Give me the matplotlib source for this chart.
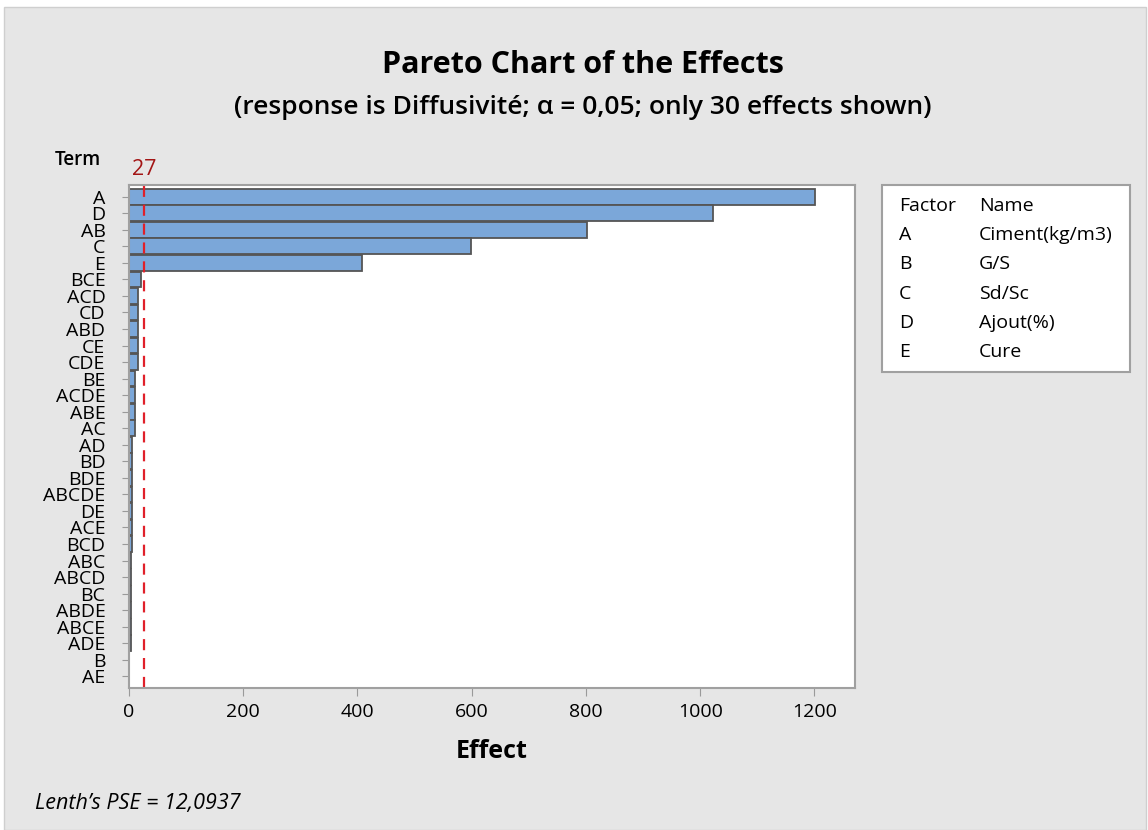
import matplotlib
matplotlib.use("Agg")
import matplotlib.pyplot as plt
from matplotlib.patches import Rectangle

plt.rcParams['font.family'] = ['Open Sans', 'DejaVu Sans']

# Effects, sorted as in the chart (largest first)
terms = ["A", "D", "AB", "C", "E", "BCE", "ACD", "CD", "ABD", "CE",
         "CDE", "BE", "ACDE", "ABE", "AC", "AD", "BD", "BDE", "ABCDE", "DE",
         "ACE", "BCD", "ABC", "ABCD", "BC", "ABDE", "ABCE", "ADE", "B", "AE"]
effects = [1201, 1022, 802, 599, 408, 21, 15, 15, 15, 15,
           15, 11, 11, 11, 11, 6, 6, 6, 6, 6,
           6, 6, 3, 3, 3, 3, 3, 3, 0.6, 0.4]
critical = 27
factors = ["A", "B", "C", "D", "E"]
factor_names = ["Ciment(kg/m3)", "G/S", "Sd/Sc", "Ajout(%)", "Cure"]

fig = plt.figure(figsize=(11.48, 8.30), dpi=100, facecolor="white")
fig.patches.append(Rectangle((4 / 1148, 0), 1142 / 1148, 1 - 7 / 830,
                             transform=fig.transFigure, facecolor="#e6e6e6",
                             edgecolor="#cfcfcf", linewidth=1, zorder=-10))

ax = fig.add_axes([129 / 1148, 1 - 688 / 830, 726 / 1148, 503 / 830])
ax.set_facecolor("white")

ypos = list(range(len(terms)))
ax.barh(ypos, effects, height=0.95, color="#7ba7d9", edgecolor="#555555", linewidth=1.3)
ax.axvline(critical, color="#e0202a", linestyle=(0, (5, 3.5)), linewidth=1.6)

ax.set_xlim(0, 1271)
ax.set_ylim(len(terms) - 0.29, -0.71)
ax.set_yticks(ypos)
ax.set_yticklabels(terms, fontsize=14)
ax.set_xticks([0, 200, 400, 600, 800, 1000, 1200])
ax.tick_params(axis="x", labelsize=14, length=6, color="#9a9a9a", pad=5)
ax.tick_params(axis="y", length=5, color="#9a9a9a", pad=12)
for s in ax.spines.values():
    s.set_color("#a0a0a0")
    s.set_linewidth(1.5)

ax.set_xlabel("Effect", fontsize=18, fontweight="bold", labelpad=13)
ax.text(critical, 1.01, "27", transform=ax.get_xaxis_transform(), ha="center",
        va="bottom", fontsize=15.5, color="#a31515")

fig.text(78 / 1148, 1 - 160 / 830, "Term", ha="center", va="center",
         fontsize=13.5, fontweight="semibold")
fig.text(583 / 1148, 1 - 65 / 830, "Pareto Chart of the Effects", ha="center",
         va="center", fontsize=22, fontweight="bold")
fig.text(583 / 1148, 1 - 107 / 830,
         "(response is Diffusivité; α = 0,05; only 30 effects shown)",
         ha="center", va="center", fontsize=19, fontweight="semibold")
fig.text(35 / 1148, 1 - 803 / 830, "Lenth’s PSE = 12,0937", ha="left",
         va="center", fontsize=15.5, style="italic")

# factor table on the right
fig.patches.append(Rectangle((882 / 1148, 1 - 372 / 830), 248 / 1148, 187 / 830,
                             transform=fig.transFigure, facecolor="white",
                             edgecolor="#a0a0a0", linewidth=1.5))
rows = [("Factor", "Name")] + list(zip(factors, factor_names))
for i, (f, n) in enumerate(rows):
    y = 1 - (206 + i * 29.2) / 830
    fig.text(899 / 1148, y, f, ha="left", va="center", fontsize=14)
    fig.text(979 / 1148, y, n, ha="left", va="center", fontsize=14)

fig.savefig("out.png", dpi=100, facecolor=fig.get_facecolor())
